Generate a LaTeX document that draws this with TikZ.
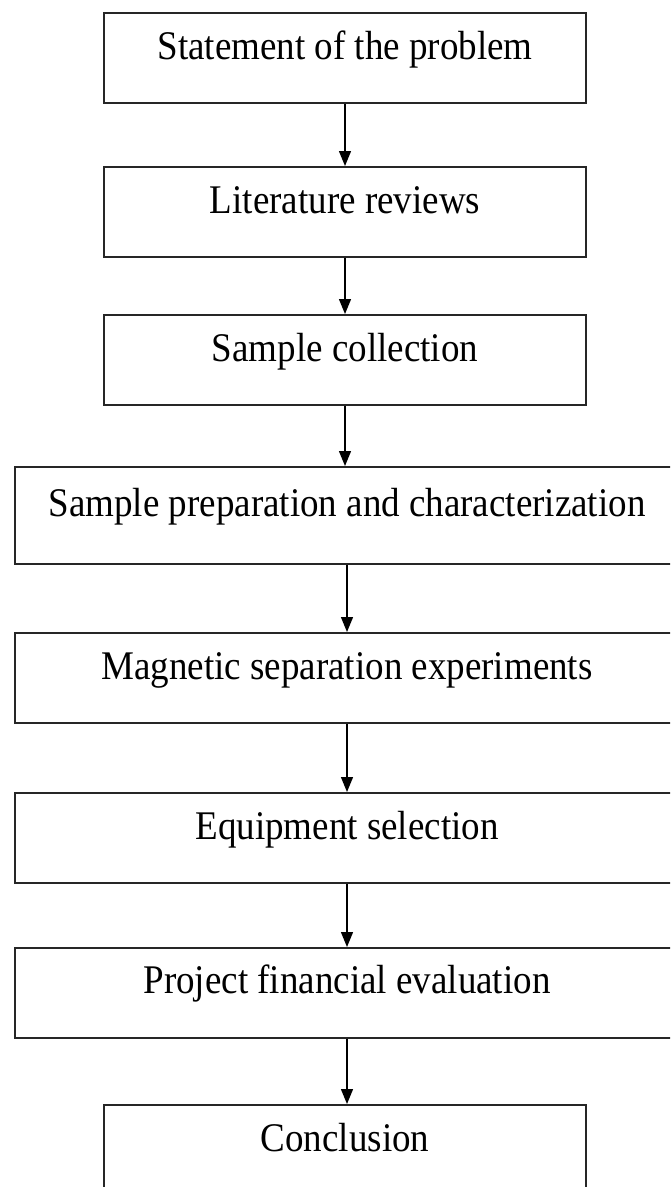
\documentclass[tikz,border=0pt]{standalone}
\usepackage{fontspec}
\setmainfont{Liberation Serif}
\usetikzlibrary{arrows.meta,calc}
\newcommand{\tallt}[1]{\scalebox{1}[1.1]{#1}}
\tikzset{
  stepbox/.style={draw=black!85, line width=1.6pt, rectangle, inner sep=0pt, anchor=north, minimum height=90pt},
  narrowbox/.style={stepbox, minimum width=482pt},
  widebox/.style={stepbox, minimum width=664pt},
  lbl/.style={anchor=base, inner sep=0pt, font=\fontsize{37}{44}\selectfont},
  flow/.style={line width=1.3pt, -{Triangle[length=15pt,width=12pt]}}
}
\begin{document}
\begin{tikzpicture}[x=1pt,y=-1pt]
\useasboundingbox (0,0) rectangle (670,1187);
\clip (0,0) rectangle (670,1187);
\node[narrowbox] (b1) at (345,12) {};
\node[narrowbox] (b2) at (345,166) {};
\node[narrowbox] (b3) at (345,314) {};
\node[widebox, minimum height=97pt] (b4) at (347,466) {};
\node[widebox] (b5) at (347,632) {};
\node[widebox] (b6) at (347,792) {};
\node[widebox] (b7) at (347,947) {};
\node[narrowbox] (b8) at (345,1104) {};
\node[lbl] (t1) at ($(b1.north)+(0,47)$) {\tallt{Statement of the problem}};
\node[lbl] (t2) at ($(b2.north)+(0,47)$) {\tallt{Literature reviews}};
\node[lbl] (t3) at ($(b3.north)+(0,47)$) {\tallt{Sample collection}};
\node[lbl] (t4) at ($(b4.north)+(0,50)$) {\tallt{Sample preparation and characterization}};
\node[lbl] (t5) at ($(b5.north)+(0,47)$) {\tallt{Magnetic separation experiments}};
\node[lbl] (t6) at ($(b6.north)+(0,47)$) {\tallt{Equipment selection}};
\node[lbl] (t7) at ($(b7.north)+(0,46)$) {\tallt{Project financial evaluation}};
\node[lbl] (t8) at ($(b8.north)+(0,47)$) {\tallt{Conclusion}};
\draw[flow] (b1.south) -- (b2.north);
\draw[flow] (b2.south) -- (b3.north);
\draw[flow] (b3.south) -- (b3.south |- b4.north);
\draw[flow] (b4.south) -- (b5.north);
\draw[flow] (b5.south) -- (b6.north);
\draw[flow] (b6.south) -- (b7.north);
\draw[flow] (b7.south) -- (b7.south |- b8.north);
\end{tikzpicture}
\end{document}
